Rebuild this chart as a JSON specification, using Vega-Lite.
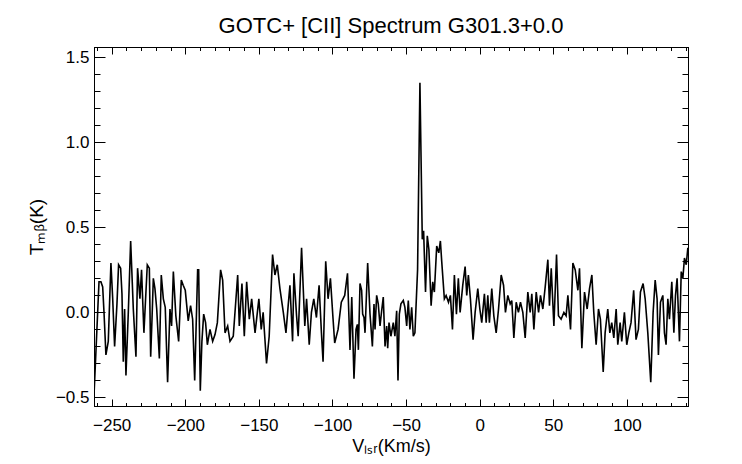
{
  "$schema": "https://vega.github.io/schema/vega-lite/v6.json",
  "width": 594,
  "height": 359,
  "autosize": {"type": "none"},
  "padding": {"left": 94, "top": 47, "right": 54, "bottom": 58},
  "background": "white",
  "config": {
    "view": {"stroke": "black", "strokeWidth": 1},
    "axis": {
      "labelFont": "Liberation Sans",
      "titleFont": "Liberation Sans",
      "labelColor": "black",
      "titleColor": "black",
      "domainColor": "black",
      "tickColor": "black",
      "grid": false,
      "titleFontWeight": "normal"
    }
  },
  "title": {
    "text": "GOTC+ [CII] Spectrum G301.3+0.0",
    "font": "Liberation Sans",
    "fontSize": 22,
    "fontWeight": "normal",
    "color": "black",
    "anchor": "middle",
    "baseline": "alphabetic",
    "offset": -8
  },
  "data": {
    "values": [
      {"v": -262.0, "t": -0.49}, {"v": -258.6, "t": 0.18}, {"v": -257.3, "t": 0.18}, {"v": -256.1, "t": 0.15},
      {"v": -255.2, "t": 0.0}, {"v": -253.9, "t": -0.25}, {"v": -252.3, "t": -0.17}, {"v": -250.5, "t": 0.29},
      {"v": -249.3, "t": 0.08}, {"v": -248.0, "t": -0.2}, {"v": -246.4, "t": 0.05}, {"v": -245.3, "t": 0.28},
      {"v": -243.9, "t": 0.26}, {"v": -243.0, "t": 0.11}, {"v": -242.1, "t": -0.29}, {"v": -241.2, "t": 0.02},
      {"v": -240.3, "t": -0.37}, {"v": -238.7, "t": 0.0}, {"v": -237.1, "t": 0.42}, {"v": -235.3, "t": 0.02},
      {"v": -233.5, "t": -0.26}, {"v": -232.4, "t": 0.26}, {"v": -230.8, "t": 0.08}, {"v": -229.7, "t": 0.25},
      {"v": -228.1, "t": -0.12}, {"v": -225.8, "t": 0.28}, {"v": -224.4, "t": 0.26}, {"v": -223.5, "t": -0.26},
      {"v": -222.6, "t": -0.04}, {"v": -221.7, "t": 0.2}, {"v": -220.6, "t": 0.14}, {"v": -219.4, "t": 0.02},
      {"v": -217.6, "t": -0.27}, {"v": -216.3, "t": 0.22}, {"v": -214.9, "t": 0.08}, {"v": -213.6, "t": 0.03},
      {"v": -212.0, "t": -0.41}, {"v": -210.4, "t": 0.02}, {"v": -209.3, "t": -0.08}, {"v": -208.1, "t": 0.24},
      {"v": -206.4, "t": -0.02}, {"v": -204.5, "t": -0.17}, {"v": -202.7, "t": 0.19}, {"v": -201.4, "t": 0.16},
      {"v": -200.0, "t": 0.13}, {"v": -198.0, "t": -0.05}, {"v": -196.4, "t": 0.04}, {"v": -195.0, "t": -0.04},
      {"v": -193.6, "t": -0.4}, {"v": -191.6, "t": 0.25}, {"v": -190.9, "t": 0.25}, {"v": -189.8, "t": -0.46},
      {"v": -188.7, "t": -0.17}, {"v": -187.5, "t": -0.01}, {"v": -186.2, "t": -0.06}, {"v": -185.0, "t": -0.19},
      {"v": -183.2, "t": -0.1}, {"v": -181.4, "t": -0.17}, {"v": -179.8, "t": -0.13}, {"v": -178.2, "t": -0.06},
      {"v": -176.0, "t": 0.25}, {"v": -174.6, "t": 0.19}, {"v": -173.0, "t": -0.12}, {"v": -171.2, "t": -0.08},
      {"v": -169.6, "t": -0.17}, {"v": -167.4, "t": -0.14}, {"v": -164.4, "t": 0.22}, {"v": -163.3, "t": -0.08},
      {"v": -161.5, "t": 0.17}, {"v": -159.9, "t": -0.14}, {"v": -158.3, "t": 0.18}, {"v": -156.5, "t": -0.04},
      {"v": -154.9, "t": 0.08}, {"v": -152.6, "t": -0.12}, {"v": -150.0, "t": 0.08}, {"v": -148.4, "t": -0.1},
      {"v": -147.1, "t": 0.0}, {"v": -144.8, "t": -0.3}, {"v": -143.0, "t": -0.14}, {"v": -140.7, "t": 0.34},
      {"v": -139.1, "t": 0.22}, {"v": -137.5, "t": 0.28}, {"v": -135.7, "t": 0.14}, {"v": -133.4, "t": 0.0},
      {"v": -131.6, "t": -0.12}, {"v": -130.1, "t": 0.04}, {"v": -128.9, "t": 0.16}, {"v": -127.1, "t": -0.17},
      {"v": -126.2, "t": 0.23}, {"v": -124.4, "t": -0.02}, {"v": -123.3, "t": -0.14}, {"v": -121.0, "t": 0.38},
      {"v": -118.8, "t": -0.08}, {"v": -117.6, "t": 0.08}, {"v": -115.8, "t": -0.19}, {"v": -114.3, "t": 0.0},
      {"v": -112.7, "t": 0.08}, {"v": -110.9, "t": -0.03}, {"v": -109.1, "t": 0.16}, {"v": -107.5, "t": -0.12},
      {"v": -106.4, "t": -0.29}, {"v": -104.6, "t": 0.3}, {"v": -103.0, "t": 0.08}, {"v": -101.4, "t": 0.2},
      {"v": -99.6, "t": -0.04}, {"v": -98.5, "t": -0.18}, {"v": -96.2, "t": -0.1}, {"v": -94.0, "t": 0.06},
      {"v": -91.7, "t": 0.1}, {"v": -89.8, "t": 0.23}, {"v": -88.1, "t": -0.22}, {"v": -86.9, "t": 0.09},
      {"v": -85.4, "t": -0.39}, {"v": -84.0, "t": -0.1}, {"v": -83.1, "t": -0.07}, {"v": -82.4, "t": -0.22},
      {"v": -81.3, "t": 0.17}, {"v": -80.2, "t": 0.13}, {"v": -79.5, "t": -0.01}, {"v": -78.6, "t": -0.03},
      {"v": -77.9, "t": -0.12}, {"v": -76.1, "t": 0.29}, {"v": -74.5, "t": -0.01}, {"v": -72.9, "t": -0.2},
      {"v": -71.8, "t": 0.05}, {"v": -71.1, "t": -0.1}, {"v": -70.0, "t": 0.1}, {"v": -68.9, "t": 0.05},
      {"v": -67.7, "t": -0.08}, {"v": -66.6, "t": 0.01}, {"v": -65.5, "t": 0.09}, {"v": -64.3, "t": -0.2},
      {"v": -63.2, "t": -0.08}, {"v": -62.5, "t": -0.21}, {"v": -61.6, "t": -0.06}, {"v": -60.3, "t": -0.14},
      {"v": -58.7, "t": -0.06}, {"v": -57.6, "t": -0.14}, {"v": -56.4, "t": 0.01}, {"v": -55.5, "t": -0.4},
      {"v": -54.6, "t": -0.01}, {"v": -53.5, "t": 0.05}, {"v": -51.9, "t": 0.07}, {"v": -50.8, "t": 0.03},
      {"v": -49.6, "t": -0.08}, {"v": -48.5, "t": 0.07}, {"v": -47.4, "t": -0.1}, {"v": -46.2, "t": 0.03},
      {"v": -45.1, "t": -0.14}, {"v": -44.0, "t": -0.12}, {"v": -42.2, "t": 0.25}, {"v": -40.6, "t": 1.35},
      {"v": -39.0, "t": 0.43}, {"v": -38.1, "t": 0.48}, {"v": -36.8, "t": 0.12}, {"v": -35.6, "t": 0.45},
      {"v": -34.5, "t": 0.37}, {"v": -33.0, "t": 0.04}, {"v": -31.9, "t": 0.18}, {"v": -30.8, "t": 0.12},
      {"v": -29.2, "t": 0.39}, {"v": -27.8, "t": 0.35}, {"v": -26.7, "t": 0.42}, {"v": -25.8, "t": 0.3},
      {"v": -24.0, "t": 0.08}, {"v": -22.8, "t": 0.1}, {"v": -21.2, "t": 0.06}, {"v": -19.9, "t": 0.1},
      {"v": -18.5, "t": -0.1}, {"v": -17.2, "t": 0.22}, {"v": -15.8, "t": -0.01}, {"v": -14.5, "t": 0.2},
      {"v": -13.3, "t": 0.0}, {"v": -11.5, "t": 0.16}, {"v": -9.9, "t": 0.27}, {"v": -8.8, "t": 0.1},
      {"v": -7.7, "t": 0.22}, {"v": -6.3, "t": 0.08}, {"v": -4.5, "t": -0.16}, {"v": -3.1, "t": 0.0},
      {"v": -1.3, "t": 0.14}, {"v": 0.1, "t": 0.02}, {"v": 1.4, "t": -0.06}, {"v": 3.2, "t": 0.11},
      {"v": 4.4, "t": -0.06}, {"v": 5.5, "t": 0.1}, {"v": 6.6, "t": -0.06}, {"v": 8.2, "t": 0.14},
      {"v": 9.6, "t": -0.02}, {"v": 11.2, "t": -0.12}, {"v": 12.8, "t": 0.02}, {"v": 14.6, "t": 0.22},
      {"v": 16.2, "t": 0.16}, {"v": 17.5, "t": 0.0}, {"v": 19.1, "t": 0.1}, {"v": 20.7, "t": 0.05},
      {"v": 21.8, "t": 0.07}, {"v": 23.2, "t": -0.15}, {"v": 24.8, "t": 0.06}, {"v": 26.3, "t": 0.0},
      {"v": 27.7, "t": 0.06}, {"v": 29.3, "t": 0.0}, {"v": 30.9, "t": -0.15}, {"v": 32.7, "t": 0.12},
      {"v": 34.3, "t": 0.0}, {"v": 35.4, "t": 0.11}, {"v": 36.8, "t": -0.1}, {"v": 38.4, "t": 0.12},
      {"v": 40.0, "t": 0.0}, {"v": 41.3, "t": 0.1}, {"v": 42.9, "t": 0.02}, {"v": 44.5, "t": 0.15},
      {"v": 46.3, "t": 0.31}, {"v": 47.4, "t": 0.04}, {"v": 48.6, "t": 0.26}, {"v": 50.4, "t": -0.08},
      {"v": 52.2, "t": 0.34}, {"v": 53.5, "t": -0.02}, {"v": 55.3, "t": -0.04}, {"v": 57.2, "t": 0.0},
      {"v": 58.7, "t": -0.02}, {"v": 59.9, "t": 0.1}, {"v": 61.7, "t": -0.1}, {"v": 63.3, "t": 0.29},
      {"v": 64.9, "t": 0.25}, {"v": 66.7, "t": 0.13}, {"v": 67.8, "t": 0.26}, {"v": 69.4, "t": -0.21},
      {"v": 71.2, "t": 0.12}, {"v": 73.0, "t": 0.02}, {"v": 74.6, "t": 0.14}, {"v": 76.2, "t": 0.22},
      {"v": 77.5, "t": 0.0}, {"v": 79.1, "t": -0.19}, {"v": 80.7, "t": 0.02}, {"v": 82.0, "t": -0.04},
      {"v": 83.9, "t": -0.35}, {"v": 85.2, "t": -0.12}, {"v": 87.0, "t": 0.02}, {"v": 88.4, "t": -0.12},
      {"v": 89.7, "t": -0.06}, {"v": 91.1, "t": -0.15}, {"v": 92.7, "t": 0.02}, {"v": 93.8, "t": -0.19},
      {"v": 95.4, "t": -0.06}, {"v": 96.5, "t": -0.17}, {"v": 98.3, "t": 0.0}, {"v": 99.9, "t": -0.19},
      {"v": 101.3, "t": -0.12}, {"v": 102.8, "t": -0.06}, {"v": 104.6, "t": 0.13}, {"v": 106.2, "t": -0.16},
      {"v": 107.8, "t": -0.1}, {"v": 109.2, "t": 0.12}, {"v": 111.0, "t": 0.17}, {"v": 112.4, "t": 0.08},
      {"v": 114.2, "t": -0.12}, {"v": 116.2, "t": -0.41}, {"v": 117.8, "t": 0.0}, {"v": 119.2, "t": 0.19},
      {"v": 120.5, "t": 0.08}, {"v": 121.4, "t": -0.25}, {"v": 122.8, "t": 0.06}, {"v": 124.4, "t": 0.1},
      {"v": 125.5, "t": -0.12}, {"v": 126.6, "t": -0.19}, {"v": 127.8, "t": 0.08}, {"v": 128.9, "t": -0.04},
      {"v": 130.5, "t": 0.18}, {"v": 131.9, "t": -0.12}, {"v": 133.0, "t": 0.1}, {"v": 134.1, "t": 0.2},
      {"v": 135.7, "t": -0.17}, {"v": 136.9, "t": 0.24}, {"v": 138.0, "t": 0.2}, {"v": 139.1, "t": 0.32},
      {"v": 140.3, "t": 0.28}, {"v": 141.4, "t": 0.38}
    ]
  },
  "layer": [
    {
      "mark": {"type": "line", "color": "black", "strokeWidth": 1.6, "clip": true},
      "encoding": {
        "x": {
          "field": "v", "type": "quantitative",
          "scale": {"domain": [-262, 141.5], "nice": false, "zero": false},
          "axis": {
            "orient": "bottom", "values": [-250, -200, -150, -100, -50, 0, 50, 100],
            "format": "d", "tickSize": -7, "labelPadding": 18, "labelFontSize": 17,
            "title": "Vₗₛᵣ(Km/s)", "titleFontSize": 18, "titlePadding": 4
          }
        },
        "y": {
          "field": "t", "type": "quantitative",
          "scale": {"domain": [-0.55, 1.56], "nice": false, "zero": false},
          "axis": {
            "orient": "left", "values": [-0.5, 0, 0.5, 1, 1.5],
            "format": ".1f", "tickSize": -11, "labelPadding": 16, "labelFontSize": 17,
            "title": "Tₘᵦ(K)", "titleFontSize": 19, "titlePadding": 9
          }
        }
      }
    },
    {
      "mark": {"type": "line", "opacity": 0},
      "encoding": {
        "x": {
          "field": "v", "type": "quantitative",
          "axis": {"orient": "top", "values": [-250, -200, -150, -100, -50, 0, 50, 100], "tickSize": -7, "labels": false, "title": null}
        },
        "y": {
          "field": "t", "type": "quantitative",
          "axis": {"orient": "right", "values": [-0.5, 0, 0.5, 1, 1.5], "tickSize": -11, "labels": false, "title": null}
        }
      }
    },
    {
      "mark": {"type": "line", "opacity": 0},
      "encoding": {
        "x": {
          "field": "v", "type": "quantitative",
          "axis": {"orient": "bottom", "values": [-260, -240, -230, -220, -210, -190, -180, -170, -160, -140, -130, -120, -110, -90, -80, -70, -60, -40, -30, -20, -10, 10, 20, 30, 40, 60, 70, 80, 90, 110, 120, 130, 140], "tickSize": -3.5, "labels": false, "title": null}
        },
        "y": {
          "field": "t", "type": "quantitative",
          "axis": {"orient": "left", "values": [-0.4, -0.3, -0.2, -0.1, 0.1, 0.2, 0.3, 0.4, 0.6, 0.7, 0.8, 0.9, 1.1, 1.2, 1.3, 1.4], "tickSize": -6, "labels": false, "title": null}
        }
      }
    },
    {
      "mark": {"type": "line", "opacity": 0},
      "encoding": {
        "x": {
          "field": "v", "type": "quantitative",
          "axis": {"orient": "top", "values": [-260, -240, -230, -220, -210, -190, -180, -170, -160, -140, -130, -120, -110, -90, -80, -70, -60, -40, -30, -20, -10, 10, 20, 30, 40, 60, 70, 80, 90, 110, 120, 130, 140], "tickSize": -3.5, "labels": false, "title": null}
        },
        "y": {
          "field": "t", "type": "quantitative",
          "axis": {"orient": "right", "values": [-0.4, -0.3, -0.2, -0.1, 0.1, 0.2, 0.3, 0.4, 0.6, 0.7, 0.8, 0.9, 1.1, 1.2, 1.3, 1.4], "tickSize": -6, "labels": false, "title": null}
        }
      }
    }
  ],
  "resolve": {"axis": {"x": "independent", "y": "independent"}}
}
